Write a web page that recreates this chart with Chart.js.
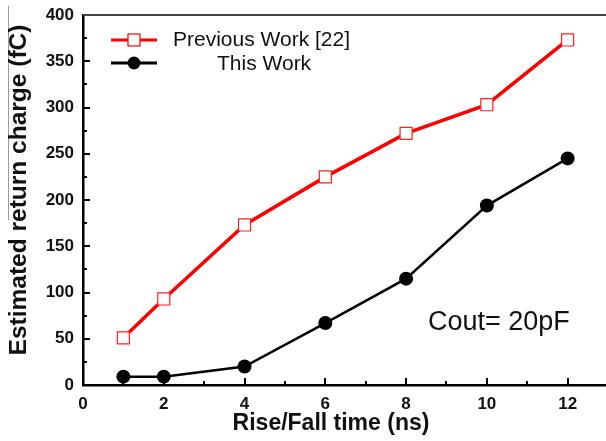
<!DOCTYPE html>
<html>
<head>
<meta charset="utf-8">
<script src="https://cdn.jsdelivr.net/npm/chart.js@4"></script>
<style>
  html, body { margin: 0; padding: 0; background: #fff; }
  #wrap { width: 606px; height: 441px; }
</style>
</head>
<body>
<div id="wrap"><canvas id="c" width="606" height="441"></canvas></div>
<script>
// data
const riseFall     = [1, 2, 4, 6, 8, 10, 12];
const previousWork = [51, 93, 173, 225, 272, 303, 373];
const thisWork     = [9, 9, 20, 67, 115, 194, 245];
const xTicks = [0, 2, 4, 6, 8, 10, 12];
const yTicks = [0, 50, 100, 150, 200, 250, 300, 350, 400];

const FONT = 'Arial, "Liberation Sans", sans-serif';

const toPts = (ys) => riseFall.map((x, i) => ({ x, y: ys[i] }));

// frame, inward ticks, axis titles, legend box and annotation
const decorations = {
  id: 'decorations',
  afterDraw(chart) {
    const { ctx, chartArea: a, scales: { x, y } } = chart;
    ctx.save();

    // stray scan line on the left
    ctx.strokeStyle = '#9a9a9a';
    ctx.lineWidth = 1;
    ctx.beginPath(); ctx.moveTo(8.5, 6); ctx.lineTo(8.5, 220); ctx.stroke();

    // top frame
    ctx.strokeStyle = '#444';
    ctx.lineWidth = 2;
    ctx.beginPath(); ctx.moveTo(a.left, a.top); ctx.lineTo(a.right, a.top); ctx.stroke();

    ctx.strokeStyle = '#000';
    ctx.lineWidth = 2;
    // x ticks (inward)
    for (let v = 1; v <= 12; v++) {
      const px = Math.round(x.getPixelForValue(v));
      const len = v % 2 === 0 ? 7 : 4;
      ctx.beginPath(); ctx.moveTo(px, a.bottom); ctx.lineTo(px, a.bottom - len); ctx.stroke();
    }
    // y ticks (inward)
    for (let v = 25; v < 400; v += 25) {
      const py = Math.round(y.getPixelForValue(v));
      const len = v % 50 === 0 ? 7 : 4;
      ctx.beginPath(); ctx.moveTo(a.left, py); ctx.lineTo(a.left + len, py); ctx.stroke();
    }

    // axis titles
    ctx.fillStyle = '#111';
    ctx.textAlign = 'center';
    ctx.textBaseline = 'middle';
    ctx.font = 'bold 23px ' + FONT;
    ctx.fillText('Rise/Fall time (ns)', 331, 424);
    ctx.save();
    ctx.translate(19, 190);
    ctx.rotate(-Math.PI / 2);
    ctx.font = 'bold 24.5px ' + FONT;
    ctx.fillText('Estimated return charge (fC)', 0, 0);
    ctx.restore();

    // legend
    ctx.strokeStyle = '#ff0000';
    ctx.lineWidth = 3;
    ctx.beginPath(); ctx.moveTo(111, 40); ctx.lineTo(157, 40); ctx.stroke();
    ctx.fillStyle = '#fff';
    ctx.fillRect(128, 34, 12, 12);
    ctx.lineWidth = 1.2;
    ctx.strokeRect(128, 34, 12, 12);

    ctx.strokeStyle = '#000';
    ctx.lineWidth = 3;
    ctx.beginPath(); ctx.moveTo(111, 63); ctx.lineTo(157, 63); ctx.stroke();
    ctx.fillStyle = '#000';
    ctx.beginPath(); ctx.arc(134, 63, 6.5, 0, Math.PI * 2); ctx.fill();

    ctx.fillStyle = '#111';
    ctx.font = '21px ' + FONT;
    ctx.textAlign = 'left';
    ctx.fillText('Previous Work [22]', 173, 40);
    ctx.fillText('This Work', 217, 64);

    ctx.font = '27px ' + FONT;
    ctx.fillText('Cout= 20pF', 428, 323);

    ctx.restore();
  }
};

new Chart(document.getElementById('c'), {
  type: 'line',
  data: {
    datasets: [
      {
        label: 'Previous Work [22]',
        data: toPts(previousWork),
        borderColor: '#ff0000',
        borderWidth: 3.5,
        pointStyle: 'rect',
        pointRadius: 8.5,
        pointBorderWidth: 1.2,
        pointBorderColor: '#ff2020',
        pointBackgroundColor: '#ffffff',
        tension: 0
      },
      {
        label: 'This Work',
        data: toPts(thisWork),
        borderColor: '#000',
        borderWidth: 2.5,
        pointStyle: 'circle',
        pointRadius: 7,
        pointBorderWidth: 0,
        pointBackgroundColor: '#000',
        tension: 0
      }
    ]
  },
  options: {
    responsive: false,
    animation: false,
    layout: { autoPadding: false, padding: { top: 15, right: 0, left: 0, bottom: 0 } },
    plugins: { legend: { display: false }, tooltip: { enabled: false } },
    scales: {
      x: {
        type: 'linear',
        min: 0,
        max: 12.95,
        afterFit: (s) => { s.height = 56; s.paddingLeft = 0; s.paddingRight = 0; },
        afterBuildTicks: (s) => { s.ticks = xTicks.map(v => ({ value: v })); },
        grid: { display: false, drawTicks: false },
        border: { display: true, color: '#000', width: 2.5 },
        ticks: {
          color: '#111',
          padding: 9,
          font: { family: FONT, size: 17, weight: 'bold' }
        },
        title: { display: false }
      },
      y: {
        min: 0,
        max: 400,
        afterFit: (s) => { s.width = 83; s.paddingTop = 0; s.paddingBottom = 0; },
        afterBuildTicks: (s) => { s.ticks = yTicks.map(v => ({ value: v })); },
        grid: { display: false, drawTicks: false },
        border: { display: true, color: '#000', width: 2.5 },
        ticks: {
          color: '#111',
          padding: 9,
          font: { family: FONT, size: 17, weight: 'bold' }
        },
        title: { display: false }
      }
    }
  },
  plugins: [decorations]
});
</script>
</body>
</html>
